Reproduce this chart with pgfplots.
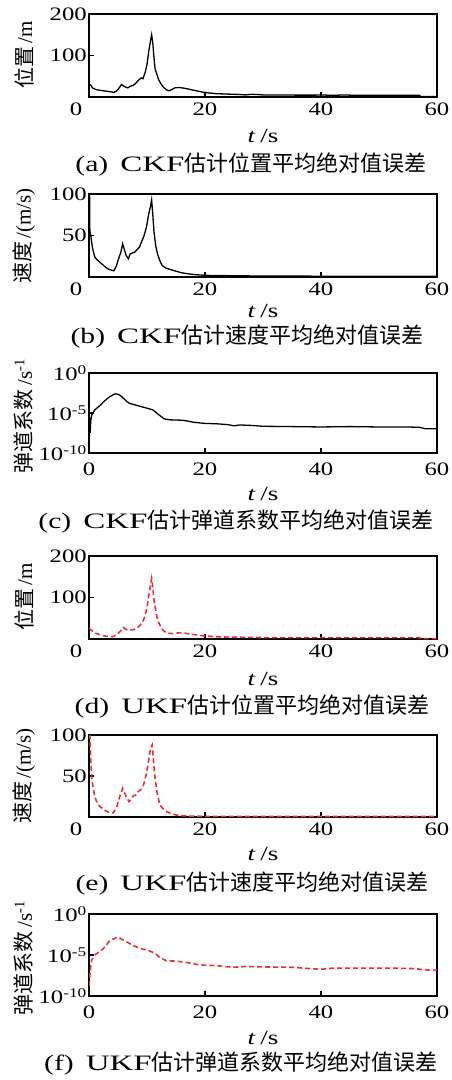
\documentclass[border=0pt]{standalone}
\usepackage{pgfplots}
\pgfplotsset{compat=1.18}
\usepackage{fontspec}
\usepackage{graphicx}
\setmainfont{Liberation Serif}
\newfontfamily\cjk{Noto Sans CJK SC}
\definecolor{ukfred}{RGB}{235,45,55}
\newcommand{\hs}[2][1.3]{\scalebox{#1}[1]{#2}}
\newcommand{\tkf}{\fontsize{19}{22}\selectfont}
\newcommand{\capt}[3]{\node[anchor=base,inner sep=0pt,font=\fontsize{22}{24}\selectfont] at (#1pt,-#2pt) {#3};}
\newcommand{\ylab}[2]{\node[rotate=90,inner sep=0pt,font=\fontsize{21}{23}\selectfont] at (24pt,-#1pt) {#2};}
\newcommand{\tlab}[1]{\node[anchor=base,inner sep=0pt,font=\fontsize{20}{22}\selectfont] at (263pt,-#1pt) {\hs[1.35]{\textit{t}\,/s}};}
\pgfplotsset{
  panel/.style={
    scale only axis, width=348pt, height=83pt,
    anchor=north west,
    xmin=0, xmax=60,
    xtick={0,20,40,60},
    tick align=inside, tick pos=left,
    major tick length=5pt,
    every tick/.style={black, line width=1.6pt},
    axis line style={line width=1.4pt},
    ticklabel style={font=\tkf},
    xticklabel style={inner sep=2pt, yshift=-4pt},
    yticklabel style={inner sep=2pt},
    yminorticks=false, xminorticks=false,
  },
  xl0/.style={xticklabels={\hs{0}\hspace*{26pt},\hs{20},\hs{40},\hs{60}}},
  xl1/.style={xticklabels={\hs{0},\hs{20},\hs{40},\hs{60}}, xticklabel style={yshift=-4pt}},
  mylogticks/.style={ymin=1e-10, ymax=1, ytick={1e-10,1e-5,1},
    yticklabels={\hs{10}\textsuperscript{\hs{-10}},\hs{10}\textsuperscript{\hs{-5}},\hs{10}\textsuperscript{\hs{0}}}},
  ckf/.style={black, line width=1.3pt},
  ukf/.style={ukfred, line width=1.6pt, dash pattern=on 5pt off 3pt},
}
\begin{document}
\begin{tikzpicture}
\path[use as bounding box] (0,0) rectangle (452pt,-1080pt);

% (a)
\begin{axis}[panel, xl0, at={(89pt,-14pt)}, ymin=0, ymax=200, ytick={0,100,200}, yticklabels={,\hs{100},\hs{200}}]
\addplot[ckf] coordinates {(0,27) (0.3,29) (0.6,22) (1,19) (1.5,17) (2,16) (2.5,15) (3,14) (3.5,13) (4,12) (4.3,11) (4.8,15) (5.2,22) (5.6,30) (5.9,27) (6.3,24) (6.7,22) (7.1,26) (7.6,28) (8,32) (8.5,40) (9,46) (9.3,44) (9.7,60) (10,78) (10.3,110) (10.6,135) (10.8,150) (11,130) (11.2,95) (11.4,68) (11.7,55) (12,42) (12.4,32) (12.8,24) (13.3,18) (13.8,15) (14.3,18) (14.8,22) (15.5,23) (16.5,21) (17.5,18) (18.5,15) (19.5,12) (20.5,10) (22,8) (24,7) (26,6) (27,5) (28,6.5) (29,6) (30,5) (33,5) (36,4.5) (39,4.5) (40,5) (42,4) (44,5) (46,4) (50,4) (54,4) (57,4) (57.2,1) (60,1)};
\end{axis}

% (b)
\begin{axis}[panel, xl0, at={(89pt,-194pt)}, ymin=0, ymax=100, ytick={0,50,100}, yticklabels={,\hs{50},\hs{100}}]
\addplot[ckf] coordinates {(0,100) (0.1,100) (0.15,55) (0.3,50) (0.6,35) (1,24) (1.5,20) (2,17) (2.5,14) (3,11) (3.5,9) (4,8) (4.3,7.5) (4.7,13) (5.1,22) (5.5,30) (5.8,40) (6.1,33) (6.4,26) (6.8,22) (7.1,28) (7.5,29) (7.9,30) (8.3,33) (8.7,36) (9.1,43) (9.5,50) (9.9,60) (10.3,76) (10.6,85) (10.8,93) (11,75) (11.2,55) (11.5,38) (11.8,28) (12.2,20) (12.6,14) (13.2,11) (14,9) (15,7) (16,5) (17,4) (18,3) (19,2.5) (20,2) (25,1.5) (30,1.2) (40,1) (60,1)};
\end{axis}

% (c)
\begin{axis}[ymode=log, panel, xl1, mylogticks, at={(89pt,-373pt)}, height=80pt]
\addplot[ckf] coordinates {(0,1e-7) (0.1,3.2e-6) (0.2,3.2e-8) (0.3,1e-6) (0.5,6.3e-6) (1,2.5e-5) (1.5,5e-5) (2,1e-4) (2.5,2.5e-4) (3,5e-4) (3.5,1e-3) (4,1.6e-3) (4.5,2.5e-3) (5,2.2e-3) (5.5,1.4e-3) (6,6.3e-4) (6.5,2.8e-4) (7,1.6e-4) (8,1e-4) (9,6.3e-5) (10,4e-5) (11,2.5e-5) (12,6.3e-6) (13,1.8e-6) (14,1.4e-6) (16,1.26e-6) (17,1e-6) (18,7e-7) (20,5e-7) (22,4.5e-7) (24,3.5e-7) (25,2.5e-7) (26,3.2e-7) (28,2.8e-7) (30,2.2e-7) (35,2e-7) (40,1.8e-7) (45,2e-7) (50,1.8e-7) (55,1.8e-7) (57,1.6e-7) (58,1.1e-7) (60,1.1e-7)};
\end{axis}

% (d)
\begin{axis}[panel, xl0, at={(89pt,-556pt)}, ymin=0, ymax=200, ytick={0,100,200}, yticklabels={,\hs{100},\hs{200}}]
\addplot[ukf] coordinates {(0,26) (0.5,20) (1,15) (1.5,12) (2,10) (2.5,8) (3,6.5) (3.6,5.6) (4.2,6) (4.7,10) (5.2,16) (5.6,22) (5.9,28) (6.3,24) (6.8,21) (7.3,22) (7.8,23) (8.3,26) (8.8,33) (9.3,42) (9.7,58) (10,75) (10.3,105) (10.6,130) (10.8,146) (11,125) (11.2,94) (11.5,70) (11.7,54) (12,40) (12.5,26) (13,18) (13.7,14) (14.5,13) (15.5,15) (16.5,14) (17.5,12) (18.5,10) (19.5,8) (20.5,7) (22,5.5) (24,4.5) (27,4) (30,3.5) (35,3.5) (40,3.5) (45,3.5) (50,3.5) (57,3.5) (57.2,1) (60,1)};
\end{axis}

% (e)
\begin{axis}[panel, xl0, at={(89pt,-735pt)}, height=82pt, ymin=0, ymax=100, ytick={0,50,100}, yticklabels={,\hs{50},\hs{100}}]
\addplot[ukf] coordinates {(0,100) (0.15,100) (0.3,70) (0.5,45) (0.8,32) (1,25) (1.3,19) (1.6,15) (2,12) (2.5,9.3) (3,7) (3.6,5.3) (4.2,5) (4.8,12.6) (5.3,25) (5.8,35) (6.1,30) (6.4,25) (6.9,18.7) (7.3,22) (7.6,25.6) (8.1,27) (8.5,31) (9,34) (9.4,39) (9.8,50) (10.2,65) (10.6,84) (10.9,88) (11.1,70) (11.3,53) (11.7,31) (12.2,15) (12.8,10) (13.4,6.5) (14.2,4) (15.1,2.4) (16,1.5) (18,1) (20,0.8) (30,0.6) (60,0.6)};
\end{axis}

% (f)
\begin{axis}[ymode=log, panel, xl1, mylogticks, at={(89pt,-914pt)}, height=82pt]
\addplot[ukf] coordinates {(0,1.6e-9) (0.2,1e-7) (0.45,2.5e-6) (1,1e-5) (2,3.2e-5) (2.5,6.3e-5) (3,1.6e-4) (3.6,6.3e-4) (4.2,8.9e-4) (5,1.6e-3) (5.7,7.9e-4) (6.5,4e-4) (7.5,1.6e-4) (8.8,6.3e-5) (10,4e-5) (10.8,2.5e-5) (11.5,1.4e-5) (12,6.3e-6) (13.3,2e-6) (15,1.8e-6) (16.8,1.26e-6) (19,6.3e-7) (22,5e-7) (24.8,3.2e-7) (27,4e-7) (30.6,3.5e-7) (35,3.2e-7) (37,2.5e-7) (40,1.8e-7) (42,2.5e-7) (47.6,2.5e-7) (52,2.5e-7) (56.3,2.2e-7) (57.5,1.6e-7) (59,1.4e-7) (60,1.4e-7)};
\end{axis}

% y labels
\ylab{55}{{\cjk 位置}\,/m}
\ylab{236}{{\cjk 速度}\,/(m/s)}
\ylab{416}{{\cjk 弹道系数}\,/s\textsuperscript{-1}}
\ylab{597}{{\cjk 位置}\,/m}
\ylab{776}{{\cjk 速度}\,/(m/s)}
\ylab{958}{{\cjk 弹道系数}\,/s\textsuperscript{-1}}

% x labels
\tlab{142}
\tlab{317}
\tlab{500}
\tlab{685}
\tlab{860}
\tlab{1044}

% captions
\capt{251}{171}{\hs[1.35]{(a)}\hspace{12pt}\hs[1.5]{CKF}{\cjk 估计位置平均绝对值误差}}
\capt{247}{343}{\hs[1.35]{(b)}\hspace{12pt}\hs[1.5]{CKF}{\cjk 估计速度平均绝对值误差}}
\capt{236}{528}{\hs[1.35]{(c)}\hspace{12pt}\hs[1.5]{CKF}{\cjk 估计弹道系数平均绝对值误差}}
\capt{252}{713}{\hs[1.35]{(d)}\hspace{12pt}\hs[1.5]{UKF}{\cjk 估计位置平均绝对值误差}}
\capt{252}{890}{\hs[1.35]{(e)}\hspace{12pt}\hs[1.5]{UKF}{\cjk 估计速度平均绝对值误差}}
\capt{241}{1070}{\hs[1.35]{(f)}\hspace{12pt}\hs[1.5]{UKF}{\cjk 估计弹道系数平均绝对值误差}}
\end{tikzpicture}
\end{document}
